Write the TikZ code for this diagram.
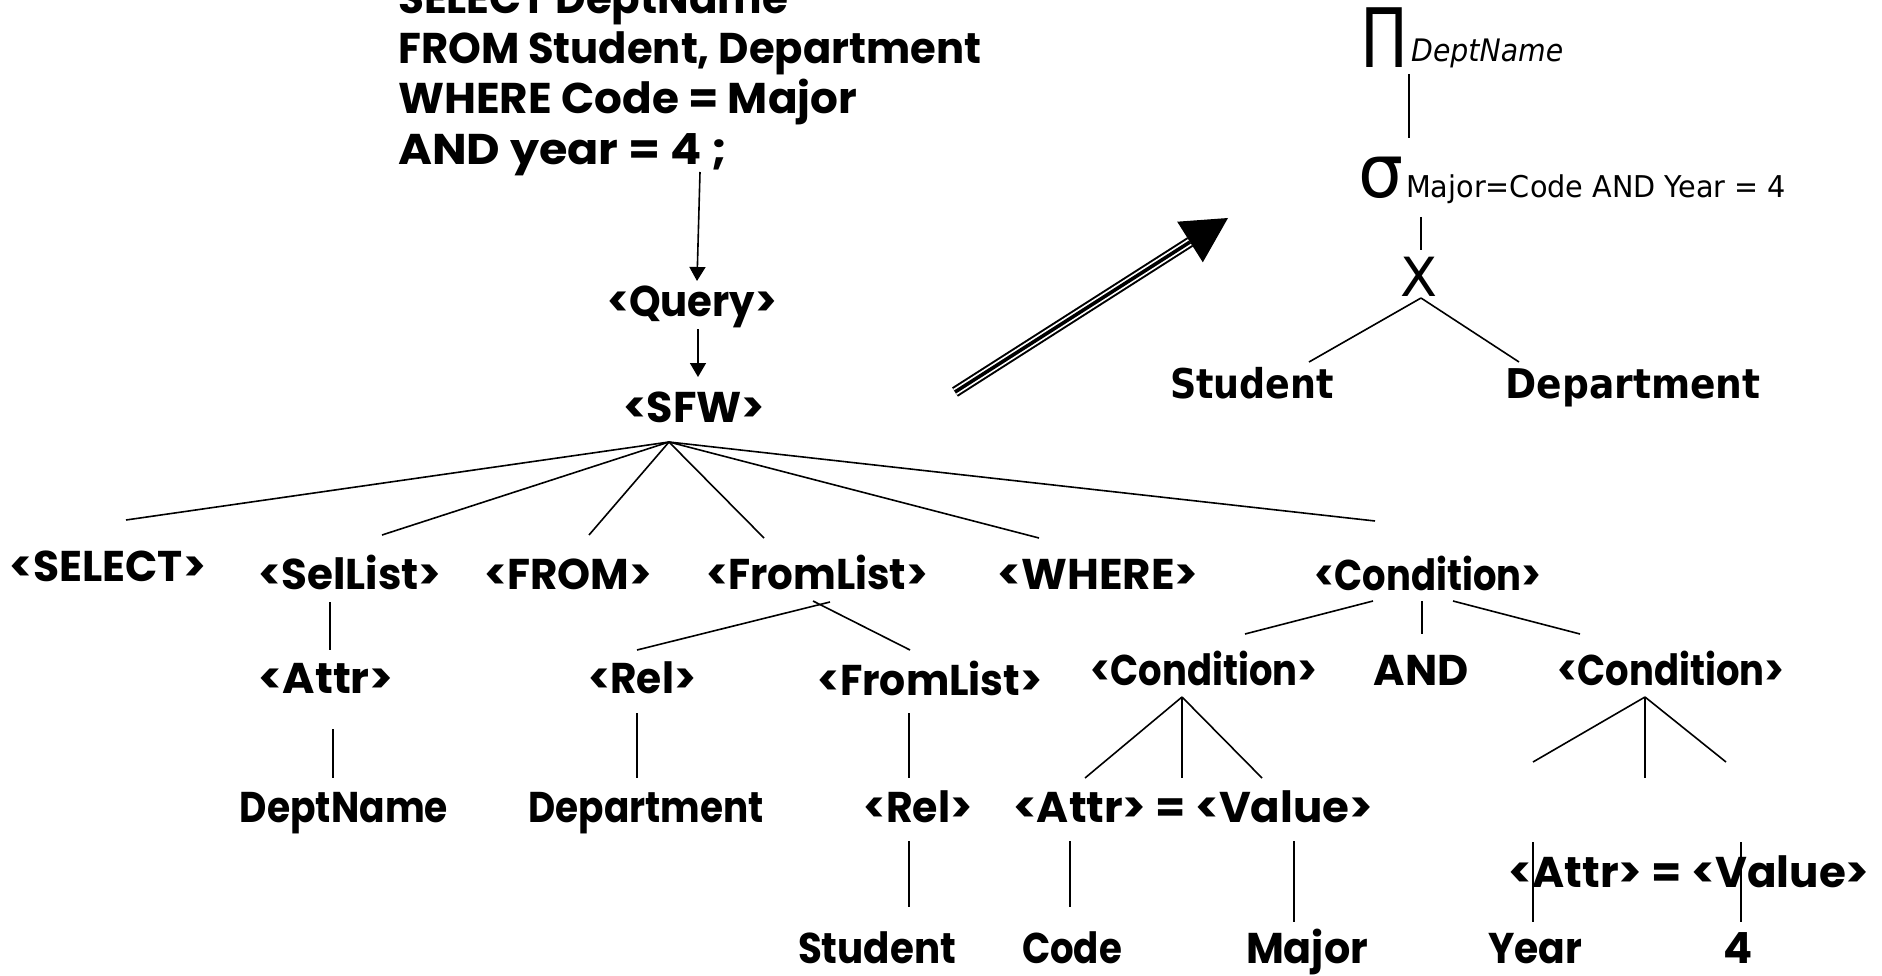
\documentclass[tikz,border=0pt]{standalone}
\usepackage{fontspec}
\usepackage{graphicx}
\usetikzlibrary{arrows.meta,calc}
\newfontfamily\treefont{Poppins}
\newfontfamily\algfont{DejaVu Sans}
% set a text at a given width, keeping its natural height
\newcommand{\fitw}[2]{\resizebox{#1pt}{\height}{#2}}

\begin{document}
\begin{tikzpicture}[x=1pt,y=-1pt,
  lbl/.style={inner sep=0pt, anchor=base, font=\treefont\bfseries\fontsize{43}{50}\selectfont},
  sqlline/.style={lbl, anchor=base west},
  edge/.style={line width=1.6pt},
  ptr/.style={line width=1.6pt, -{Triangle[length=14pt,width=16pt]}},
  alg/.style={inner sep=0pt, anchor=base west, font=\algfont\fontsize{30}{36}\selectfont},
  algop/.style={inner sep=0pt, anchor=base west, font=\algfont\fontsize{#1}{#1}\selectfont},
  relname/.style={inner sep=0pt, anchor=base, font=\algfont\bfseries\fontsize{41}{48}\selectfont},
]
\fill[white] (0,0) rectangle (1882,976);
\useasboundingbox (0,0) rectangle (1882,976);

% ---------- SQL statement ----------
\node[sqlline] (q1) at (398,14)  {\fitw{390}{SELECT DeptName}};
\node[sqlline] (q2) at (398,64)  {\fitw{583}{FROM Student, Department}};
\node[sqlline] (q3) at (398,114) {\fitw{459}{WHERE Code = Major}};
\node[sqlline] (q4) at (398,165) {\fitw{329}{AND year = 4 ;}};

% ---------- parse tree ----------
\node[lbl] (query) at (692,317) {\fitw{170}{<Query>}};
\node[lbl] (sfw)   at (694,422) {\fitw{142}{<SFW>}};

\node[lbl] (select)   at (108,581)  {\fitw{196}{<SELECT>}};
\node[lbl] (sellist)  at (350,589)  {\fitw{183}{<SelList>}};
\node[lbl] (from)     at (568,589)  {\fitw{168}{<FROM>}};
\node[lbl] (fromlist) at (817,589)  {\fitw{222}{<FromList>}};
\node[lbl] (where)    at (1098,589) {\fitw{201}{<WHERE>}};
\node[lbl] (cond)     at (1428,590) {\fitw{227}{<Condition>}};

\node[lbl] (attr)      at (326,693)  {\fitw{135}{<Attr>}};
\node[lbl] (rel)       at (642,693)  {\fitw{108}{<Rel>}};
\node[lbl] (fromlistb) at (930,695)  {\fitw{225}{<FromList>}};
\node[lbl] (condl)     at (1204,685) {\fitw{227}{<Condition>}};
\node[lbl] (and)       at (1421,685) {\fitw{95}{AND}};
\node[lbl] (condr)     at (1671,685) {\fitw{227}{<Condition>}};

\node[lbl] (deptname) at (344,822)  {\fitw{208}{DeptName}};
\node[lbl] (dept)     at (646,822)  {\fitw{235}{Department}};
\node[lbl] (relb)     at (918,822)  {\fitw{109}{<Rel>}};
\node[lbl] (avl)      at (1193,822) {\fitw{360}{<Attr> = <Value>}};
\node[lbl] (avr)      at (1689,887) {\fitw{361}{<Attr> = <Value>}};

\node[lbl] (student) at (877,963)  {\fitw{158}{Student}};
\node[lbl] (code)    at (1072,963) {\fitw{100}{Code}};
\node[lbl] (major)   at (1307,963) {\fitw{122}{Major}};
\node[lbl] (year)    at (1535,963) {\fitw{94}{Year}};
\node[lbl] (four)    at (1738,963) {4};

% arrows from the statement down to <SFW>
\coordinate (q4-out)    at (700,172);
\coordinate (query-in)  at (697,281);
\coordinate (query-out) at (698,329);
\coordinate (sfw-in)    at (698,377);
\draw[ptr] (q4-out) -- (query-in);
\draw[ptr] (query-out) -- (sfw-in);

% <SFW> and its six children
\coordinate (sfw-hub)      at (669,442);
\coordinate (select-in)    at (126,520);
\coordinate (sellist-in)   at (382,535);
\coordinate (from-in)      at (589,535);
\coordinate (fromlist-in)  at (764,538);
\coordinate (where-in)     at (1039,538);
\coordinate (cond-in)      at (1375,521);
\foreach \c in {select-in,sellist-in,from-in,fromlist-in,where-in,cond-in}
  \draw[edge] (sfw-hub) -- (\c);

% <SelList> branch
\coordinate (sellist-out) at (330,602);
\coordinate (attr-in)     at (330,650);
\coordinate (attr-out)    at (333,729);
\coordinate (deptname-in) at (333,778);
\draw[edge] (sellist-out) -- (attr-in);
\draw[edge] (attr-out) -- (deptname-in);

% <FromList> branch
\coordinate (fromlist-l)   at (830,602);
\coordinate (fromlist-r)   at (813,601);
\coordinate (rel-in)       at (637,650);
\coordinate (fromlistb-in) at (910,650);
\draw[edge] (fromlist-l) -- (rel-in);
\draw[edge] (fromlist-r) -- (fromlistb-in);
\coordinate (rel-out)       at (637,713);
\coordinate (dept-in)       at (637,778);
\coordinate (fromlistb-out) at (909,713);
\coordinate (relb-in)       at (909,778);
\coordinate (relb-out)      at (909,841);
\coordinate (student-in)    at (909,907);
\draw[edge] (rel-out) -- (dept-in);
\draw[edge] (fromlistb-out) -- (relb-in);
\draw[edge] (relb-out) -- (student-in);

% <Condition> branch
\coordinate (cond-l)   at (1373,601);
\coordinate (cond-m)   at (1422,601);
\coordinate (cond-r)   at (1453,601);
\coordinate (condl-in) at (1245,634);
\coordinate (and-in)   at (1422,634);
\coordinate (condr-in) at (1580,634);
\draw[edge] (cond-l) -- (condl-in);
\draw[edge] (cond-m) -- (and-in);
\draw[edge] (cond-r) -- (condr-in);

\coordinate (condl-hub) at (1182,697);
\coordinate (avl-a) at (1085,778);
\coordinate (avl-e) at (1182,778);
\coordinate (avl-v) at (1262,778);
\foreach \c in {avl-a,avl-e,avl-v} \draw[edge] (condl-hub) -- (\c);
\coordinate (avl-a-out) at (1070,841);
\coordinate (code-in)   at (1070,907);
\coordinate (avl-v-out) at (1294,841);
\coordinate (major-in)  at (1294,922);
\draw[edge] (avl-a-out) -- (code-in);
\draw[edge] (avl-v-out) -- (major-in);

\coordinate (condr-hub) at (1645,697);
\coordinate (avr-a) at (1533,762);
\coordinate (avr-e) at (1645,778);
\coordinate (avr-v) at (1726,762);
\foreach \c in {avr-a,avr-e,avr-v} \draw[edge] (condr-hub) -- (\c);
\coordinate (avr-a-out) at (1533,842);
\coordinate (year-in)   at (1533,922);
\coordinate (avr-v-out) at (1741,842);
\coordinate (four-in)   at (1741,922);
\draw[edge] (avr-a-out) -- (year-in);
\draw[edge] (avr-v-out) -- (four-in);

% ---------- translation arrow ----------
\coordinate (tr-start) at (955,392);
\coordinate (tr-base)  at (1190,242);
\coordinate (tr-tip)   at (1228,218);
\draw[line width=11pt] (tr-start) -- (tr-base);
\draw[line width=7pt, white] (tr-start) -- (tr-base);
\draw[line width=3.6pt] (tr-start) -- (tr-base);
\fill (tr-tip) -- ($(tr-base)!24pt!90:(tr-tip)$) -- ($(tr-base)!24pt!-90:(tr-tip)$) -- cycle;

% ---------- relational algebra tree ----------
\node[algop=82] (proj) at (1360,68) {\fitw{48}{Π}};
\node[alg, font=\algfont\itshape\fontsize{31}{36}\selectfont] (projsub) at (1411,62) {\fitw{152}{DeptName}};
\node[algop=74] (sel) at (1358,198) {\fitw{45}{σ}};
\node[alg] (selsub) at (1406,198) {\fitw{380}{Major=Code AND Year = 4}};
\node[algop=54, anchor=base] (cross) at (1419,297) {X};
\node[relname] (rstudent) at (1252,398) {\fitw{164}{Student}};
\node[relname] (rdept)    at (1633,398) {\fitw{255}{Department}};

\coordinate (proj-out)  at (1409,74);
\coordinate (sel-in)    at (1409,138);
\coordinate (sel-out)   at (1421,217);
\coordinate (cross-in)  at (1421,250);
\coordinate (cross-out) at (1421,298);
\coordinate (rstudent-in) at (1309,362);
\coordinate (rdept-in)    at (1519,362);
\draw[edge] (proj-out) -- (sel-in);
\draw[edge] (sel-out) -- (cross-in);
\draw[edge] (cross-out) -- (rstudent-in);
\draw[edge] (cross-out) -- (rdept-in);
\end{tikzpicture}
\end{document}
